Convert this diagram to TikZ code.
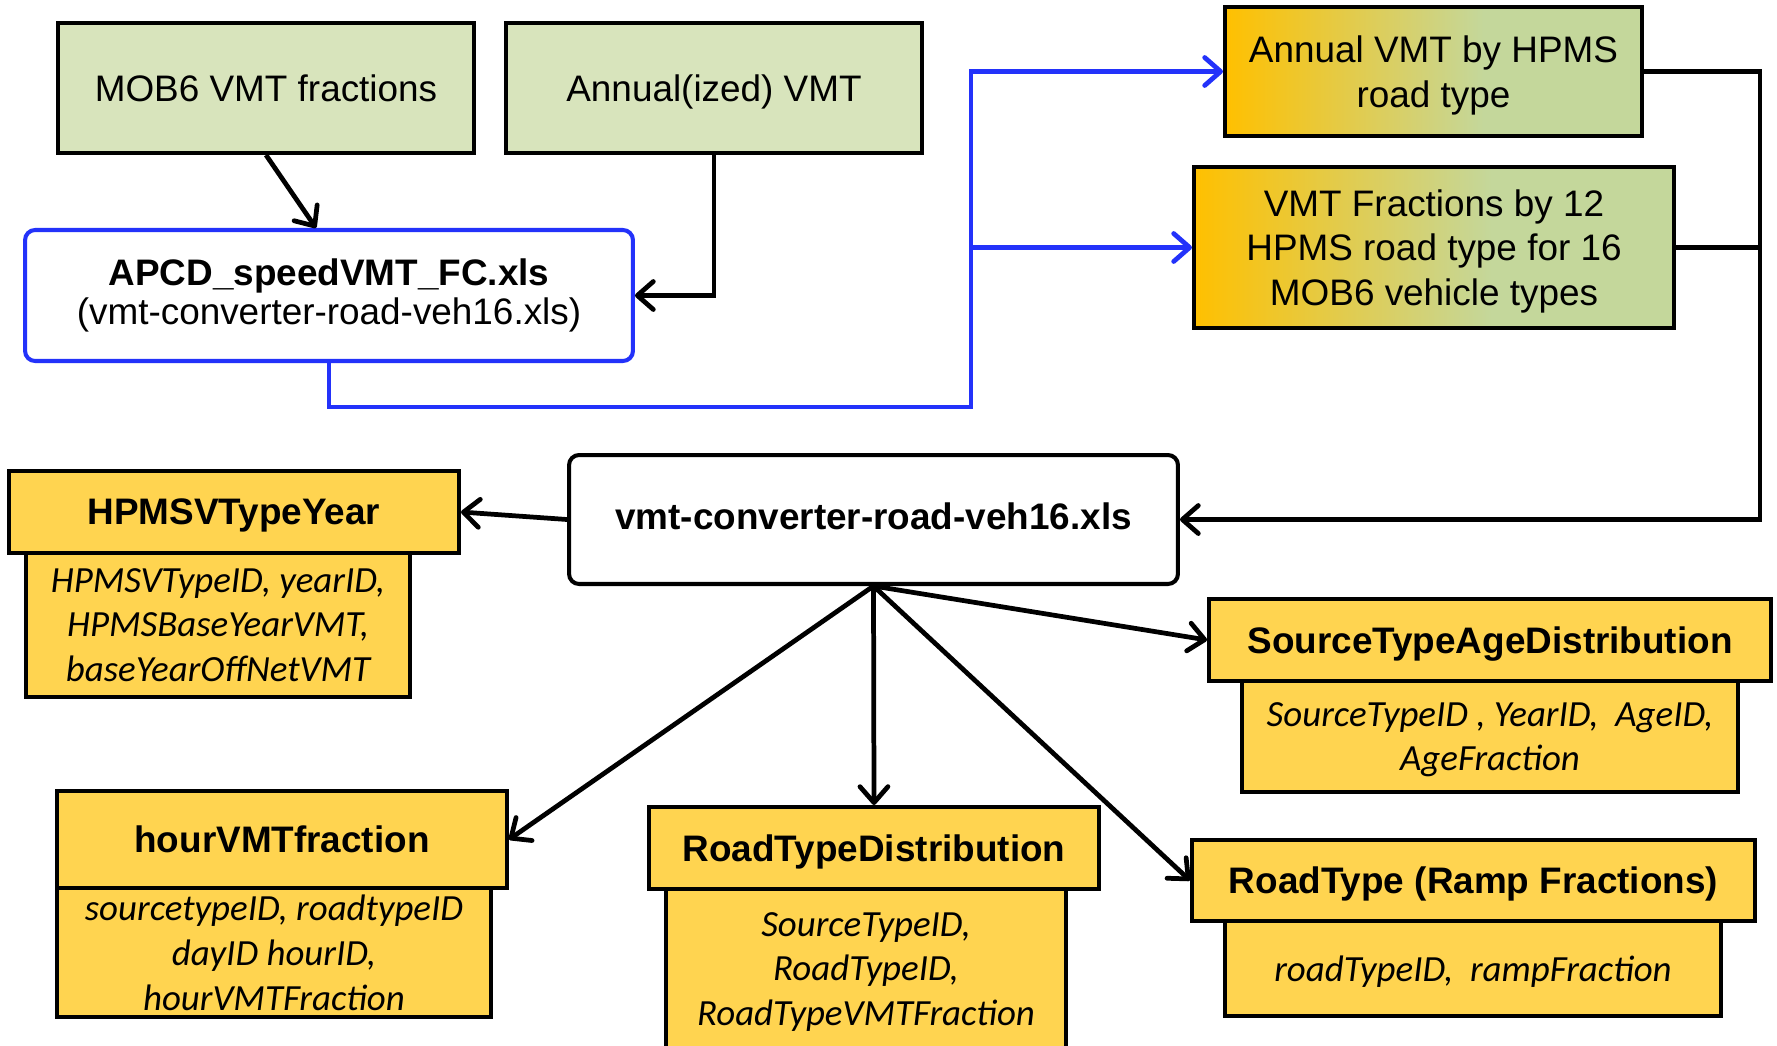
\documentclass[tikz,border=0pt]{standalone}
\usepackage{fontspec}
\setmainfont{Liberation Sans}
\newfontfamily\fieldfont{Carlito}
\usetikzlibrary{arrows.meta}

\definecolor{inputgreen}{RGB}{216,228,188}
\definecolor{tableyellow}{RGB}{255,212,80}
\definecolor{gradorange}{RGB}{255,192,0}
\definecolor{gradsage}{RGB}{196,215,155}
\definecolor{flowblue}{RGB}{35,50,250}

\pgfdeclarehorizontalshading{orangesage}{100bp}{color(0bp)=(gradorange); color(25bp)=(gradorange); color(56bp)=(gradsage); color(100bp)=(gradsage)}

\begin{document}
\begin{tikzpicture}[x=0.02cm, y=-0.02cm]
		\tikzstyle {text font} = [font=\fontsize{21}{25.5}\selectfont, text depth=0pt]
		\tikzstyle {input box} = [draw, line width=2.3pt, fill=inputgreen, inner sep=0pt, align=center, text font]
		\tikzstyle {output box} = [draw, line width=2.3pt, shading=orangesage, inner sep=0pt, align=center, text font]
		\tikzstyle {file box} = [draw, line width=2.3pt, rounded corners=0.2cm, fill=white, inner sep=0pt, align=center, text font]
		\tikzstyle {table head} = [draw, line width=2.3pt, fill=tableyellow, inner sep=0pt, align=center, text depth=0pt, font=\fontsize{21}{25.5}\selectfont\bfseries]
		\tikzstyle {table body} = [draw, line width=2.3pt, fill=tableyellow, inner sep=0pt, align=center, text depth=0pt, font=\fontsize{21}{25.5}\selectfont\fieldfont\itshape]
		\tikzstyle {flow line} = [line width=2.7pt, -{Straight Barb[length=0.32cm, width=0.56cm, round]}]
		\tikzstyle {blue line} = [flow line, draw=flowblue]

		\useasboundingbox (0,0) rectangle (1777,1045);
		\clip (0,0) rectangle (1777,1045);

		% inputs
		\node[input box, minimum width=8.32cm, minimum height=2.6cm] (mob) at (266,88) {MOB6 VMT fractions};
		\node[input box, minimum width=8.32cm, minimum height=2.6cm] (annvmt) at (714,88) {Annual(ized) VMT};
		\node[file box, draw=flowblue, minimum width=12.16cm, minimum height=2.62cm, text depth=, font=\fontsize{21}{22.7}\selectfont] (apcd) at (329,295.5)
			{\textbf{APCD\_speedVMT\_FC.xls}\\(vmt-converter-road-veh16.xls)};

		% intermediate outputs
		\node[output box, minimum width=8.34cm, minimum height=2.58cm] (annhpms) at (1433.5,71.5) {Annual VMT by HPMS\\road type};
		\node[output box, minimum width=9.6cm, minimum height=3.22cm] (vmtfrac) at (1434,247.5)
			{VMT Fractions by 12\\HPMS road type for 16\\MOB6 vehicle types};

		\node[file box, minimum width=12.18cm, minimum height=2.58cm, text depth=3.8pt, font=\fontsize{21}{25.5}\selectfont\bfseries] (conv) at (873.5,519.5)
			{vmt-converter-road-veh16.xls};

		% MOVES tables
		\node[table body, minimum width=7.68cm, minimum height=2.88cm] (hpmsb) at (218,625)
			{HPMSVTypeID, yearID,\\HPMSBaseYearVMT,\\baseYearOffNetVMT};
		\node[table head, minimum width=9cm, minimum height=1.64cm] (hpmsh) at (234,512) {HPMSVTypeYear};

		\node[table body, minimum width=8.68cm, minimum height=2.58cm] (hourb) at (274,952.5)
			{sourcetypeID, roadtypeID\\dayID hourID,\\hourVMTFraction};
		\node[table head, minimum width=9cm, minimum height=1.94cm] (hourh) at (282,839.5) {hourVMTfraction};

		\node[table body, minimum width=8cm, minimum height=3.2cm] (rtdb) at (866,969)
			{SourceTypeID,\\RoadTypeID,\\RoadTypeVMTFraction};
		\node[table head, minimum width=9cm, minimum height=1.64cm] (rtdh) at (874,848) {RoadTypeDistribution};

		\node[table body, minimum width=9.92cm, minimum height=2.22cm] (stab) at (1490,736.5)
			{SourceTypeID , YearID,~ AgeID,\\AgeFraction};
		\node[table head, minimum width=11.24cm, minimum height=1.64cm] (stah) at (1490,640) {SourceTypeAgeDistribution};

		\node[table body, minimum width=9.92cm, minimum height=1.9cm] (rtb) at (1473,968.5)
			{roadTypeID,~ rampFraction};
		\node[table head, minimum width=11.26cm, minimum height=1.62cm] (rth) at (1473.5,880.5) {RoadType (Ramp Fractions)};

		% connectors
		\coordinate (bus) at (971,407);
		\coordinate (rail) at (1760,300);
		\coordinate (fan) at (conv.south);

		\draw[flow line] (mob.south) -- ([xshift=-0.26cm]apcd.north);
		\draw[flow line] (annvmt.south) |- (apcd.east);

		\draw[blue line] (apcd.south) |- (bus) |- (annhpms.west);
		\draw[blue line] (bus |- vmtfrac.west) -- (vmtfrac.west);

		\draw[flow line] (annhpms.east) -| (rail) |- (conv.east);
		\draw[line width=2.7pt] (vmtfrac.east) -- (vmtfrac.east -| rail);

		\draw[flow line] (conv.west) -- (hpmsh.east);
		\draw[flow line] (fan) -- (hourh.east);
		\draw[flow line] (fan) -- (rtdh.north);
		\draw[flow line] (fan) -- (stah.west);
		\draw[flow line] (fan) -- (rth.west);

	\end{tikzpicture}
\end{document}
